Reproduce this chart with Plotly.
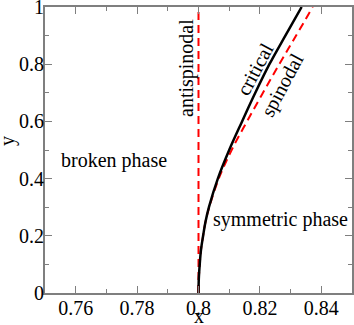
import plotly.graph_objects as go

# Critical line (solid black): y values and x positions
crit_y = [0.0, 0.05, 0.1, 0.15, 0.2, 0.25, 0.3, 0.4, 0.5, 0.6, 0.7, 0.8, 0.9, 1.0]
crit_x = [0.8000, 0.8001, 0.8004, 0.8008, 0.8015, 0.8023, 0.8034, 0.8063, 0.8100, 0.8142, 0.8185, 0.8231, 0.8283, 0.8336]

# Spinodal line (dashed red)
spin_y = [0.0, 0.05, 0.1, 0.15, 0.2, 0.25, 0.3, 0.4, 0.5, 0.6, 0.7, 0.8, 0.9, 1.0]
spin_x = [0.8000, 0.8001, 0.8004, 0.8008, 0.8015, 0.8023, 0.8035, 0.8066, 0.8108, 0.8158, 0.8210, 0.8263, 0.8318, 0.8372]

# Antispinodal line (dashed red, vertical)
anti_y = [0.0, 1.0]
anti_x = [0.8, 0.8]

x_ticks = [0.76, 0.78, 0.80, 0.82, 0.84]
x_tick_labels = ["0.76", "0.78", "0.8", "0.82", "0.84"]
y_ticks = [0, 0.2, 0.4, 0.6, 0.8, 1.0]
y_tick_labels = ["0", "0.2", "0.4", "0.6", "0.8", "1"]

FONT = "'Liberation Serif', 'Times New Roman', Times, serif"
FS = 20

fig = go.Figure()
fig.add_trace(go.Scatter(x=anti_x, y=anti_y, mode="lines",
                         line=dict(color="#ff0000", width=2, dash="8px,5px"), showlegend=False))
fig.add_trace(go.Scatter(x=spin_x, y=spin_y, mode="lines", line_shape="spline",
                         line=dict(color="#ff0000", width=2, dash="8px,5px"), showlegend=False))
fig.add_trace(go.Scatter(x=crit_x, y=crit_y, mode="lines", line_shape="spline",
                         line=dict(color="#000000", width=2.5), showlegend=False))

axis_common = dict(
    showgrid=False, zeroline=False, showline=True, linecolor="#7f7f7f", linewidth=2,
    mirror="allticks", ticks="inside", ticklen=7, tickwidth=1, tickcolor="#7f7f7f",
    tickfont=dict(family=FONT, size=FS, color="black"), automargin=False,
    ticklabeloverflow="allow",
)

fig.update_xaxes(range=[0.75, 0.85], tickvals=x_ticks, ticktext=x_tick_labels,
                 minor=dict(dtick=0.01, tick0=0.75, ticks="inside", ticklen=4, tickcolor="#7f7f7f"),
                 ticklabelstandoff=-4, **axis_common)
fig.update_yaxes(range=[0, 1], tickvals=y_ticks, ticktext=y_tick_labels,
                 minor=dict(dtick=0.1, tick0=0, ticks="inside", ticklen=4, tickcolor="#7f7f7f"),
                 ticklabelstandoff=-5, **axis_common)

labels = [
    ("antispinodal", 186, 68, -90),
    ("critical", 255, 69, -62),
    ("spinodal", 282, 85, -62),
    ("broken phase", 114, 160, 0),
    ("symmetric phase", 280, 219, 0),
]
L, R, T, B = 45, 352, 7, 293
for text, px, py, ang in labels:
    xd = 0.75 + (px - L) / (R - L) * 0.1
    yd = (B - py) / (B - T)
    fig.add_annotation(x=xd, y=yd, text=text, showarrow=False, textangle=ang,
                       font=dict(family=FONT, size=FS, color="black"),
                       xanchor="center", yanchor="middle")

# axis titles
fig.add_annotation(xref="paper", yref="paper", x=(199 - L) / (R - L), y=(B - 316) / (B - T),
                   text="x", showarrow=False, font=dict(family=FONT, size=FS, color="black"),
                   xanchor="center", yanchor="middle")
fig.add_annotation(xref="paper", yref="paper", x=(7 - L) / (R - L), y=(B - 141) / (B - T),
                   text="y", showarrow=False, textangle=-90,
                   font=dict(family=FONT, size=FS, color="black"),
                   xanchor="center", yanchor="middle")

fig.update_layout(
    width=354, height=325,
    margin=dict(l=L, r=354 - R, t=T, b=325 - B),
    paper_bgcolor="white", plot_bgcolor="white",
)

fig.write_html("out.html", config={"displayModeBar": False},
               post_script="document.body.style.margin='0';document.body.style.overflow='hidden';")
